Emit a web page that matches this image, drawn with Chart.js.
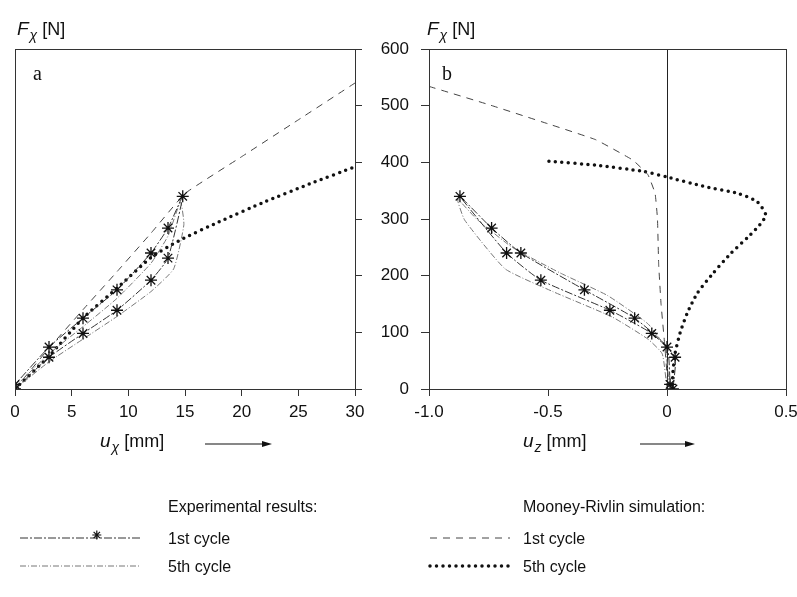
<!DOCTYPE html>
<html>
<head>
<meta charset="utf-8">
<script src="https://cdn.jsdelivr.net/npm/chart.js@4.4.1/dist/chart.umd.min.js"></script>
<style>
  html, body { margin: 0; padding: 0; background: #fff; }
  #wrap { position: relative; width: 797px; height: 597px; overflow: hidden; }
  #wrap canvas { position: absolute; top: 0; }
  #chartA { left: 0; }
  #chartB { left: 360px; }
</style>
</head>
<body>
<div id="wrap">
  <canvas id="chartA" width="372" height="597"></canvas>
  <canvas id="chartB" width="460" height="597"></canvas>
</div>
<script>
// panel a: F_x against u_x [mm]
const aExp1U = [0, 3, 6, 9, 12, 13.5, 14.8, 13.5, 12, 9, 6, 3, 0];
const aExp1F = [0, 56, 98, 139, 192, 231, 340, 284, 240, 175, 125, 74, 8];
const aExp5U = [0, 3, 6, 9, 12, 14, 14.9, 14.6, 13.5, 12, 9, 6, 3, 0];
const aExp5F = [0, 48, 88, 128, 172, 212, 290, 330, 270, 222, 160, 110, 62, 4];
const aSim1U = [0, 3, 6, 9, 12, 15, 20, 25, 30];
const aSim1F = [0, 72, 140, 207, 275, 345, 410, 475, 540];
const aSim5U = [0, 3, 6, 9, 12, 14.5, 18, 22, 26, 30];
const aSim5F = [0, 58, 125, 178, 232, 262, 295, 330, 362, 392];

// panel b: F_x against u_z [mm]
const bExp1U = [0.025, 0.034, -0.064, -0.24, -0.53, -0.674, -0.87, -0.737, -0.614, -0.347, -0.136, 0, 0.013];
const bExp1F = [0, 56, 98, 139, 192, 240, 340, 284, 240, 175, 125, 74, 8];
const bExp5U = [0, -0.02, -0.08, -0.23, -0.48, -0.68, -0.85, -0.88, -0.8, -0.65, -0.45, -0.25, -0.08, -0.01, 0.01];
const bExp5F = [0, 62, 88, 127, 172, 212, 298, 335, 300, 250, 205, 165, 115, 75, 5];
const bSim1U = [-1.0, -0.75, -0.5, -0.3, -0.144, -0.08, -0.05, -0.04, -0.035, -0.025, -0.01, 0.005];
const bSim1F = [534, 502, 468, 440, 404, 378, 345, 300, 220, 150, 80, 0];
const bSim5U = [-0.496, -0.3, -0.1, 0, 0.15, 0.3, 0.38, 0.415, 0.39, 0.34, 0.27, 0.195, 0.127, 0.085, 0.055, 0.034, 0.025, 0.022];
const bSim5F = [402, 395, 384, 374, 358, 345, 330, 307, 290, 268, 240, 205, 169, 134, 99, 63, 30, 0];

const forceTicks = [0, 100, 200, 300, 400, 500, 600];
const legendHeads = ['Experimental results:', 'Mooney-Rivlin simulation:'];
const legendNames = ['1st cycle', '5th cycle'];

const pts = (xs, ys) => xs.map((x, i) => ({x, y: ys[i]}));

const styles = {
  exp1: {borderColor: '#333', borderWidth: 1, borderDash: [8, 2, 2, 2], tension: 0.15,
         pointStyle: 'star', pointRadius: 6, pointBorderColor: '#111', pointBorderWidth: 1.3},
  exp5: {borderColor: '#777', borderWidth: 1, borderDash: [6, 2, 1, 2], tension: 0.15, pointRadius: 0},
  sim1: {borderColor: '#444', borderWidth: 1, borderDash: [7, 6], tension: 0.1, pointRadius: 0},
  sim5: {borderColor: '#111', borderWidth: 3.5, borderDash: [0, 6.5], borderCapStyle: 'round', tension: 0.2, pointRadius: 0},
};

const FONT = '"Liberation Sans", Arial, sans-serif';

function drawSubLabel(ctx, x, y, main, sub, rest) {
  ctx.fillStyle = '#111';
  ctx.font = 'italic 19px ' + FONT;
  ctx.fillText(main, x, y);
  let w = ctx.measureText(main).width;
  ctx.font = 'italic 14px ' + FONT;
  ctx.fillText(sub, x + w + 1, y + 5);
  w += ctx.measureText(sub).width + 1;
  ctx.font = '18px ' + FONT;
  ctx.fillText(rest, x + w + 5, y);
}

function drawStar(ctx, x, y, r) {
  ctx.save();
  ctx.setLineDash([]);
  ctx.lineWidth = 1.2;
  ctx.strokeStyle = '#111';
  ctx.beginPath();
  for (let k = 0; k < 4; k++) {
    const a = k * Math.PI / 4;
    ctx.moveTo(x - r * Math.cos(a), y - r * Math.sin(a));
    ctx.lineTo(x + r * Math.cos(a), y + r * Math.sin(a));
  }
  ctx.stroke();
  ctx.restore();
}

const figureText = {
  id: 'figureText',
  afterDraw(chart, args, o) {
    const ctx = chart.ctx;
    const ca = chart.chartArea;
    ctx.save();
    // frame
    ctx.strokeStyle = '#333';
    ctx.lineWidth = 1;
    ctx.strokeRect(ca.left + 0.5, ca.top + 0.5, ca.right - ca.left, ca.bottom - ca.top);

    ctx.textBaseline = 'alphabetic';
    ctx.textAlign = 'left';
    drawSubLabel(ctx, o.yTitle.x, o.yTitle.y, 'F', 'χ', '[N]');
    drawSubLabel(ctx, o.xTitle.x, o.xTitle.y, 'u', o.xTitle.sub, '[mm]');

    ctx.font = '20px "Liberation Serif", serif';
    ctx.fillText(o.letter.text, o.letter.x, o.letter.y);

    // arrow
    const ar = o.arrow;
    ctx.strokeStyle = '#111';
    ctx.lineWidth = 1.2;
    ctx.beginPath();
    ctx.moveTo(ar.x1, ar.y);
    ctx.lineTo(ar.x2 - 6, ar.y);
    ctx.stroke();
    ctx.beginPath();
    ctx.moveTo(ar.x2, ar.y);
    ctx.lineTo(ar.x2 - 10, ar.y - 3);
    ctx.lineTo(ar.x2 - 10, ar.y + 3);
    ctx.closePath();
    ctx.fill();

    // legend column
    const lg = o.legend;
    ctx.font = '16px ' + FONT;
    ctx.fillStyle = '#111';
    ctx.fillText(lg.head, lg.textX, lg.headY);
    lg.items.forEach((it, i) => {
      const y = lg.rowY[i];
      ctx.fillStyle = '#111';
      ctx.fillText(it.name, lg.textX, y + 6);
      const st = it.style;
      ctx.save();
      ctx.strokeStyle = st.borderColor;
      ctx.lineWidth = st.borderWidth;
      ctx.setLineDash(st.borderDash || []);
      ctx.lineCap = st.borderCapStyle || 'butt';
      ctx.beginPath();
      ctx.moveTo(lg.sampleX1, y);
      ctx.lineTo(lg.sampleX2, y);
      ctx.stroke();
      ctx.restore();
      if (st.pointStyle === 'star') {
        drawStar(ctx, lg.sampleX1 + (lg.sampleX2 - lg.sampleX1) * 0.64, y - 3, 4.5);
      }
    });
    ctx.restore();
  }
};

const tickFont = {family: FONT, size: 17};

function makeDatasets(e1u, e1f, e5u, e5f, s1u, s1f, s5u, s5f) {
  return [
    Object.assign({label: 'Experimental 1st cycle', data: pts(e1u, e1f), showLine: true}, styles.exp1),
    Object.assign({label: 'Experimental 5th cycle', data: pts(e5u, e5f), showLine: true}, styles.exp5),
    Object.assign({label: 'Mooney-Rivlin 1st cycle', data: pts(s1u, s1f), showLine: true}, styles.sim1),
    Object.assign({label: 'Mooney-Rivlin 5th cycle', data: pts(s5u, s5f), showLine: true}, styles.sim5),
  ];
}

const chartA = new Chart(document.getElementById('chartA'), {
  type: 'scatter',
  data: {datasets: makeDatasets(aExp1U, aExp1F, aExp5U, aExp5F, aSim1U, aSim1F, aSim5U, aSim5F)},
  options: {
    responsive: false,
    animation: false,
    devicePixelRatio: 1,
    layout: {padding: {left: 15, top: 49, right: 0, bottom: 168}},
    plugins: {
      legend: {display: false},
      tooltip: {enabled: false},
      figureText: {
        yTitle: {x: 17, y: 35},
        xTitle: {x: 100, y: 447, sub: 'χ'},
        letter: {text: 'a', x: 33, y: 80},
        arrow: {x1: 205, x2: 272, y: 444},
        legend: {
          head: legendHeads[0], textX: 168, headY: 512,
          rowY: [538, 566], sampleX1: 20, sampleX2: 140,
          items: [{name: legendNames[0], style: styles.exp1}, {name: legendNames[1], style: styles.exp5}]
        }
      }
    },
    scales: {
      x: {
        type: 'linear', min: 0, max: 30,
        afterFit: s => { s.height = 40; },
        ticks: {stepSize: 5, font: tickFont, color: '#111', padding: 6, maxRotation: 0},
        grid: {drawOnChartArea: false, tickLength: 7, color: '#333'},
        border: {color: '#333'}
      },
      y: {
        position: 'right', min: 0, max: 600,
        afterFit: s => { s.width = 17; },
        afterBuildTicks: s => { s.ticks = forceTicks.map(v => ({value: v})); },
        ticks: {display: false},
        grid: {drawOnChartArea: false, tickLength: 7, color: '#333'},
        border: {color: '#333'}
      }
    }
  },
  plugins: [figureText]
});

const chartB = new Chart(document.getElementById('chartB'), {
  type: 'scatter',
  data: {datasets: makeDatasets(bExp1U, bExp1F, bExp5U, bExp5F, bSim1U, bSim1F, bSim5U, bSim5F)},
  options: {
    responsive: false,
    animation: false,
    devicePixelRatio: 1,
    layout: {padding: {left: 0, top: 49, right: 34, bottom: 168}},
    plugins: {
      legend: {display: false},
      tooltip: {enabled: false},
      figureText: {
        yTitle: {x: 67, y: 35},
        xTitle: {x: 163, y: 447, sub: 'z'},
        letter: {text: 'b', x: 82, y: 80},
        arrow: {x1: 280, x2: 335, y: 444},
        legend: {
          head: legendHeads[1], textX: 163, headY: 512,
          rowY: [538, 566], sampleX1: 70, sampleX2: 150,
          items: [{name: legendNames[0], style: styles.sim1}, {name: legendNames[1], style: styles.sim5}]
        }
      }
    },
    scales: {
      x: {
        type: 'linear', min: -1, max: 0.5,
        afterFit: s => { s.height = 40; },
        ticks: {stepSize: 0.5, font: tickFont, color: '#111', padding: 6, maxRotation: 0,
                callback: v => v === 0 ? '0' : v.toFixed(1)},
        grid: {
          drawOnChartArea: true, tickLength: 7,
          color: c => (c.tick && c.tick.value === 0) ? '#222' : 'rgba(0,0,0,0)',
          tickColor: '#333'
        },
        border: {color: '#333'}
      },
      y: {
        position: 'left', min: 0, max: 600,
        afterFit: s => { s.width = 69; },
        afterBuildTicks: s => { s.ticks = forceTicks.map(v => ({value: v})); },
        ticks: {font: tickFont, color: '#111', padding: 12},
        grid: {drawOnChartArea: false, tickLength: 8, color: '#333'},
        border: {color: '#333'}
      }
    }
  },
  plugins: [figureText]
});
</script>
</body>
</html>
